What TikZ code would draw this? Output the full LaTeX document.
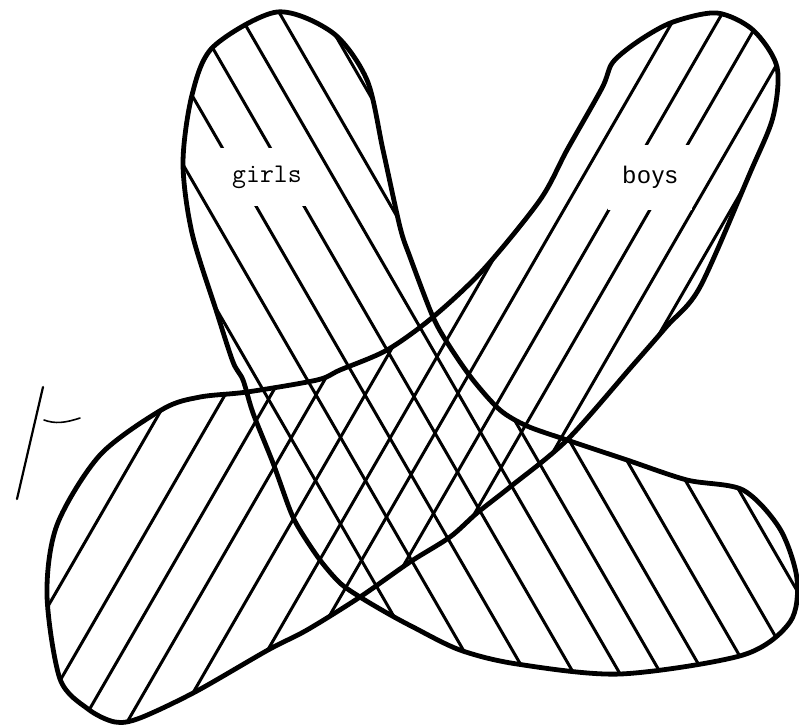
\documentclass[tikz,border=0pt]{standalone}
\usepackage{fontspec}
\newfontfamily\boysfont[LetterSpace=6]{Liberation Sans}
\begin{document}
\begin{tikzpicture}[x=1pt,y=-1pt,
  outline/.style={line width=4.8pt, line join=round},
  hatch/.style={line width=3pt},
  gaplabel/.style={fill=white, inner sep=0pt},
  scanmark/.style={line width=2.2pt, line cap=round}]
\useasboundingbox (0,0) rectangle (799,724);
\def\girlsshape{plot[smooth cycle,tension=0.5] coordinates {
 (277,12) (333,33) (367,80) (383,150) (400,227) (410,257) (433,317) (450,347)
 (473,380) (500,410) (527,426) (567,440) (627,460) (687,480) (743,490)
 (780,529) (797,579) (790,622) (743,655) (620,674) (517,664) (460,650)
 (413,627) (387,613) (360,597) (340,583) (320,560) (300,530) (290,510)
 (273,463) (253,413) (243,380) (233,362) (217,313) (192,233) (183,163)
 (192,95) (213,47)}}
\def\boysshape{plot[smooth cycle,tension=0.5] coordinates {
 (717,13) (753,30) (777,67) (773,117) (750,173) (700,287) (667,326) (633,365)
 (567,440) (510,487) (477,513) (450,537) (410,562) (360,597) (307,630)
 (268,650) (195,692) (140,718) (115,722) (88,709) (60,679) (47,595) (57,525)
 (100,455) (163,409) (200,397) (247,392) (317,380) (340,370) (387,350)
 (433,317) (483,270) (540,200) (567,150) (602,88) (613,62) (640,40) (673,22)}}
% hatching of the girls set
\begin{scope}
  \clip \girlsshape;
  \foreach \c in {38,88,137,185,231,272,315,361,408,456}
    \draw[hatch] (\c,0) -- (\c+418,724);
\end{scope}
% hatching of the boys set
\begin{scope}
  \clip \boysshape;
  \foreach \d in {398,453,499,544,593,643,685,730,771,814,852}
    \draw[hatch] (\d,0) -- (\d-418,724);
\end{scope}
% labels (they interrupt the hatching)
\node[gaplabel, minimum width=96pt, minimum height=58pt,
      font=\ttfamily\fontsize{27}{30}\selectfont] (girls) at (267,177) {girls};
\node[gaplabel, minimum width=84pt, minimum height=65pt,
      font=\boysfont\fontsize{24}{28}\selectfont] (boys) at (650,177) {boys};
% outlines
\draw[outline] \girlsshape;
\draw[outline] \boysshape;
% stray scan mark at the left
\draw[scanmark] (43,387) -- (17,499);
\draw[scanmark, line width=1.6pt] (44,420) .. controls (55,424) and (65,423) .. (80,418);
\end{tikzpicture}
\end{document}
